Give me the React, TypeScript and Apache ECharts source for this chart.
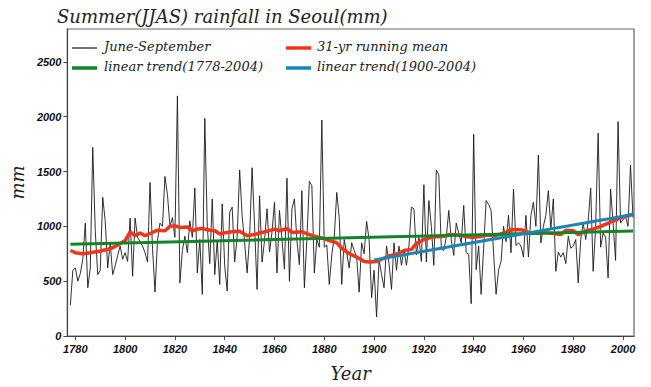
import React, { useEffect, useRef } from "react";
import * as echarts from "echarts";

const startYear = 1778;
const rainfall: number[] = [
  // 1778-1799
  280, 600, 620, 500, 570, 700, 1030, 440, 620, 1720, 960, 560, 600, 1265, 1050, 620, 850, 560, 640, 735, 820, 700,
  // 1800-1819
  760, 680, 1075, 545, 1075, 900, 860, 820, 760, 675, 1400, 800, 400, 870, 1030, 1000, 1455, 1290, 1000, 1080,
  // 1820-1839
  900, 2190, 485, 780, 910, 760, 1050, 900, 1350, 575, 880, 380, 1985, 1000, 660, 1250, 560, 870, 470, 1205,
  // 1840-1859
  640, 410, 1130, 1175, 675, 900, 1515, 1100, 850, 575, 900, 1535, 1000, 425, 1280, 675, 870, 1160, 765, 950,
  // 1860-1879
  1220, 575, 1145, 880, 610, 1440, 500, 1160, 1250, 870, 650, 1325, 440, 880, 1410, 1370, 575, 880, 810, 1970,
  // 1880-1899
  810, 830, 470, 740, 900, 1310, 1080, 470, 880, 760, 620, 850, 780, 720, 400, 850, 750, 1045, 880, 350,
  // 1900-1919
  600, 175, 700, 560, 440, 820, 660, 425, 850, 600, 820, 645, 790, 645, 820, 1175, 1160, 740, 900, 680,
  // 1920-1939
  1380, 675, 1235, 1000, 645, 1515, 1470, 795, 780, 900, 1145, 880, 735, 1030, 940, 850, 1190, 760, 745, 295,
  // 1940-1959
  1840, 605, 820, 380, 800, 1235, 1200, 1145, 760, 380, 600, 680, 1000, 860, 1100, 760, 1340, 825, 850, 820,
  // 1960-1979
  720, 1100, 720, 1100, 1220, 1000, 1650, 850, 1000, 1100, 1325, 980, 1250, 590, 765, 720, 760, 660, 910, 800,
  // 1980-1999
  820, 880, 485, 880, 1030, 880, 1050, 1350, 590, 1000, 1850, 810, 940, 900, 530, 1340, 1030, 690, 1955, 1030,
  // 2000-2004
  1060, 1090, 1000, 1560, 1080,
];

const runMeanYears: number[] = [
  1778, 1780, 1783, 1786, 1790, 1794, 1797, 1800, 1802, 1804, 1806, 1808, 1810, 1813, 1816, 1818, 1820, 1822, 1825,
  1827, 1829, 1831, 1834, 1836, 1838, 1841, 1843, 1846, 1849, 1852, 1854, 1857, 1860, 1862, 1865, 1867, 1871, 1874,
  1876, 1879, 1882, 1885, 1887, 1890, 1893, 1896, 1898, 1901, 1903, 1906, 1909, 1912, 1915, 1917, 1920, 1923, 1925,
  1928, 1930, 1934, 1937, 1940, 1942, 1945, 1948, 1950, 1953, 1955, 1959, 1962, 1964, 1968, 1972, 1975, 1977, 1980,
  1982, 1986, 1988, 1991, 1994, 1997, 2000, 2004,
];
const runMeanValues: number[] = [
  780, 760, 750, 760, 775, 795, 830, 870, 950, 915, 940, 915, 935, 965, 960, 1000, 1005, 990, 995,
  960, 975, 980, 965, 960, 930, 945, 950, 955, 915, 925, 940, 955, 975, 960, 980, 945, 950, 925,
  910, 895, 870, 850, 800, 750, 720, 680, 675, 680, 700, 730, 745, 780, 790, 845, 880, 900, 905,
  910, 925, 922, 905, 900, 905, 920, 915, 925, 945, 970, 970, 945, 940, 945, 935, 925, 965, 960,
  925, 965, 975, 1000, 1030, 1060, 1085, 1110,
];

const trendAllYears: number[] = [1778, 2004];
const trendAllValues: number[] = [836, 958];
const trend1900Years: number[] = [1900, 2004];
const trend1900Values: number[] = [693, 1108];

const xTicks: number[] = [1780, 1800, 1820, 1840, 1860, 1880, 1900, 1920, 1940, 1960, 1980, 2000];
const yTicks: number[] = [0, 500, 1000, 1500, 2000, 2500];

const legendNames = {
  obs: "June-September",
  mean: "31-yr running mean",
  trendAll: "linear trend(1778-2004)",
  trend1900: "linear trend(1900-2004)",
};

const COLORS = {
  obs: "#1a1a1a",
  mean: "#f0361a",
  trendAll: "#12842a",
  trend1900: "#1b86b3",
};

const serif = "'DejaVu Serif', serif";
const tickFont = "'Liberation Sans', Arial, sans-serif";

export default function App() {
  const ref = useRef<HTMLDivElement>(null);

  useEffect(() => {
    if (!ref.current) return;
    const chart = echarts.init(ref.current, undefined, { renderer: "svg" });

    const obsData = rainfall.map((v, i) => [startYear + i, v]);
    const meanData = runMeanYears.map((y, i) => [y, runMeanValues[i]]);
    const trendAllData = trendAllYears.map((y, i) => [y, trendAllValues[i]]);
    const trend1900Data = trend1900Years.map((y, i) => [y, trend1900Values[i]]);

    const legendText = (x: number, y: number, text: string) => ({
      type: "text",
      left: x,
      top: y - 8,
      style: {
        text,
        fill: "#222",
        font: `italic 13px ${serif}`,
      },
    });
    const legendLine = (x: number, y: number, color: string, w: number) => ({
      type: "line",
      shape: { x1: x, y1: y, x2: x + 25, y2: y },
      style: { stroke: color, lineWidth: w },
    });

    chart.setOption({
      animation: false,
      backgroundColor: "#ffffff",
      title: {
        text: "Summer(JJAS) rainfall in Seoul(mm)",
        left: 52,
        top: 2,
        textStyle: {
          fontFamily: serif,
          fontStyle: "italic",
          fontWeight: "normal",
          fontSize: 18,
          color: "#222",
        },
      },
      grid: {
        left: 65,
        right: 17,
        top: 29,
        bottom: 40,
        show: true,
        borderColor: "#666",
        borderWidth: 1.2,
        containLabel: false,
      },
      xAxis: {
        type: "value",
        min: 1776.8,
        max: 2004.4,
        name: "Year",
        nameLocation: "middle",
        nameGap: 28,
        nameTextStyle: {
          fontFamily: serif,
          fontStyle: "italic",
          fontSize: 18,
          color: "#222",
        },
        axisLine: { show: true, lineStyle: { color: "#444", width: 1.2 } },
        axisTick: {
          show: true,
          length: 4,
          inside: false,
          customValues: xTicks,
          lineStyle: { color: "#444", width: 1 },
        },
        axisLabel: {
          customValues: xTicks,
          margin: 7,
          formatter: (v: number) => String(v),
          fontFamily: tickFont,
          fontStyle: "italic",
          fontWeight: "bold",
          fontSize: 11,
          color: "#111",
        },
        splitLine: { show: false },
      },
      yAxis: {
        type: "value",
        min: 0,
        max: 2800,
        name: "mm",
        nameLocation: "middle",
        nameGap: 37,
        nameTextStyle: {
          fontFamily: serif,
          fontStyle: "italic",
          fontSize: 18,
          color: "#222",
        },
        axisLine: { show: true, lineStyle: { color: "#444", width: 1.2 } },
        axisTick: {
          show: true,
          length: 4,
          inside: false,
          customValues: yTicks,
          lineStyle: { color: "#444", width: 1 },
        },
        axisLabel: {
          customValues: yTicks,
          margin: 6,
          formatter: (v: number) => String(v),
          fontFamily: tickFont,
          fontStyle: "italic",
          fontWeight: "bold",
          fontSize: 11,
          color: "#111",
        },
        splitLine: { show: false },
      },
      series: [
        {
          name: legendNames.obs,
          type: "line",
          data: obsData,
          showSymbol: false,
          lineStyle: { color: COLORS.obs, width: 0.9 },
          z: 2,
        },
        {
          name: legendNames.mean,
          type: "line",
          data: meanData,
          showSymbol: false,
          lineStyle: { color: COLORS.mean, width: 3.5 },
          z: 3,
        },
        {
          name: legendNames.trendAll,
          type: "line",
          data: trendAllData,
          showSymbol: false,
          lineStyle: { color: COLORS.trendAll, width: 3 },
          z: 4,
        },
        {
          name: legendNames.trend1900,
          type: "line",
          data: trend1900Data,
          showSymbol: false,
          lineStyle: { color: COLORS.trend1900, width: 3 },
          z: 5,
        },
      ],
      graphic: [
        legendLine(72, 48, COLORS.obs, 1.2),
        legendText(104, 48, legendNames.obs),
        legendLine(72, 68, COLORS.trendAll, 3.5),
        legendText(104, 68, legendNames.trendAll),
        legendLine(286, 48, COLORS.mean, 3.5),
        legendText(317, 48, legendNames.mean),
        legendLine(286, 68, COLORS.trend1900, 3.5),
        legendText(317, 68, legendNames.trend1900),
      ],
    });

    return () => chart.dispose();
  }, []);

  return <div ref={ref} style={{ width: 651, height: 387, position: "absolute", left: 0, top: 0 }} />;
}
